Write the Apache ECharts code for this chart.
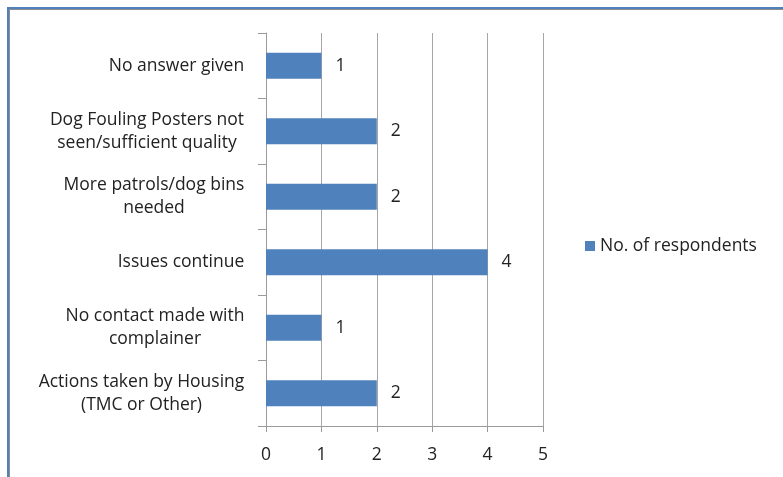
<!DOCTYPE html>
<html>
<head>
<meta charset="utf-8">
<script src="https://cdn.jsdelivr.net/npm/echarts@6/dist/echarts.min.js"></script>
<style>
  html, body { margin: 0; padding: 0; background: #fff; }
  #frame { position: absolute; left: 7px; top: 7px; width: 776px; height: 470px;
           border-left: 2px solid #4F81BD; border-top: 2px solid #4F81BD; }
  #frame2 { position: absolute; left: 9px; top: 9px; width: 774px; height: 468px;
           border-left: 1px solid #8c8c8c; border-top: 1px solid #8c8c8c; }
  #main { position: absolute; left: 0; top: 0; width: 783px; height: 477px; }
</style>
</head>
<body>
<div id="frame"></div>
<div id="frame2"></div>
<div id="main"></div>
<script>
// categories bottom to top
var categories = [
  'Actions taken by Housing\n(TMC or Other)',
  'No contact made with\ncomplainer',
  'Issues continue',
  'More patrols/dog bins\nneeded',
  'Dog Fouling Posters not\nseen/sufficient quality',
  'No answer given'
];
var respondents = [2, 1, 4, 2, 2, 1];
var seriesName = 'No. of respondents';

var fontSize = 17.5;
var fontName = 'Open Sans';

// multi-line labels: lines centred with each other, block right-aligned to the axis
var ctx = document.createElement('canvas').getContext('2d');
ctx.font = fontSize + 'px "' + fontName + '"';
var rich = {};
categories.forEach(function (c, i) {
  var w = 0;
  c.split('\n').forEach(function (l) { w = Math.max(w, ctx.measureText(l).width); });
  rich['b' + i] = { width: Math.ceil(w) + 1, align: 'center', fontSize: fontSize, lineHeight: 23, color: '#222' };
});

var chart = echarts.init(document.getElementById('main'));
chart.setOption({
  animation: false,
  textStyle: { fontFamily: fontName },
  grid: { left: 266, right: 240, top: 33, bottom: 51 },
  legend: {
    data: [seriesName],
    orient: 'vertical',
    left: 585,
    top: 237,
    padding: 0,
    icon: 'rect',
    itemWidth: 10,
    itemHeight: 10,
    textStyle: { fontSize: fontSize, color: '#222', fontFamily: fontName }
  },
  xAxis: {
    type: 'value',
    min: 0,
    max: 5,
    interval: 1,
    axisLine: { show: true, lineStyle: { color: '#9a9a9a', width: 1 } },
    axisTick: { show: true, length: 6, lineStyle: { color: '#9a9a9a' } },
    axisLabel: { color: '#222', fontSize: fontSize, margin: 20 },
    splitLine: { show: true, lineStyle: { color: '#a6a6a6', width: 1 } }
  },
  yAxis: {
    type: 'category',
    data: categories,
    axisLine: { show: true, lineStyle: { color: '#9a9a9a', width: 1 } },
    axisTick: { show: true, length: 8, lineStyle: { color: '#9a9a9a' } },
    axisLabel: {
      align: 'right',
      margin: 21,
      lineHeight: 23,
      rich: rich,
      formatter: function (value) {
        var i = categories.indexOf(value);
        return value.split('\n').map(function (l) { return '{b' + i + '|' + l + '}'; }).join('\n');
      }
    }
  },
  series: [
    {
      name: seriesName,
      type: 'bar',
      data: respondents,
      barWidth: 26,
      itemStyle: { color: '#4F81BD' },
      label: {
        show: true,
        position: 'right',
        distance: 14,
        color: '#222',
        fontSize: fontSize
      }
    }
  ]
});
</script>
</body>
</html>
